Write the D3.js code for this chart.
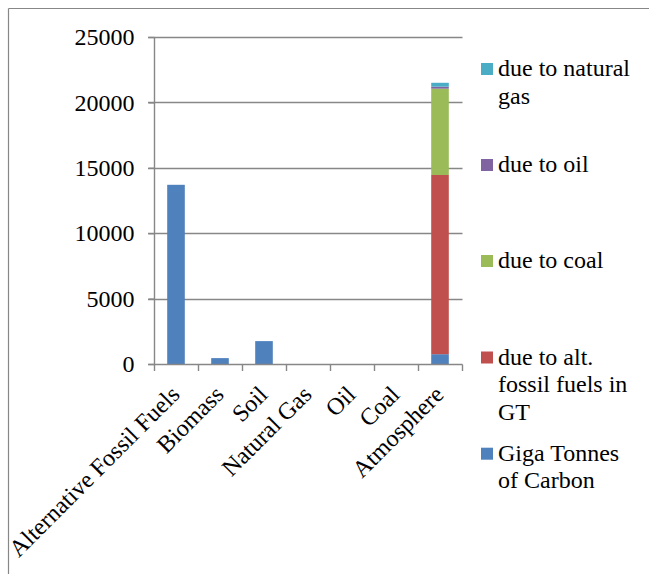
<!DOCTYPE html>
<html>
<head>
<meta charset="utf-8">
<script src="https://cdn.jsdelivr.net/npm/d3@7"></script>
<style>
  html, body { margin: 0; padding: 0; background: #fff; }
  svg { display: block; }
</style>
</head>
<body>
<script>
// Carbon stocks by category, in giga tonnes
const categories = ["Alternative Fossil Fuels", "Biomass", "Soil", "Natural Gas", "Oil", "Coal", "Atmosphere"];
const gigaTonnesCarbon = [13700, 450, 1750, 0, 0, 0, 750];
const dueToAltFossil   = [0, 0, 0, 0, 0, 0, 13700];
const dueToCoal        = [0, 0, 0, 0, 0, 0, 6600];
const dueToOil         = [0, 0, 0, 0, 0, 0, 150];
const dueToNaturalGas  = [0, 0, 0, 0, 0, 0, 300];
const yTicks = [0, 5000, 10000, 15000, 20000, 25000];

// series in stacking order (bottom to top)
const seriesKeys   = ["gt", "alt", "coal", "oil", "gas"];
const seriesValues = [gigaTonnesCarbon, dueToAltFossil, dueToCoal, dueToOil, dueToNaturalGas];
const seriesColors = ["#4F81BD", "#C0504D", "#9BBB59", "#8064A2", "#4BACC6"];
// legend lines, listed top to bottom
const legendLabels = [
  ["due to natural", "gas"],
  ["due to oil"],
  ["due to coal"],
  ["due to alt.", "fossil fuels in", "GT"],
  ["Giga Tonnes", "of Carbon"]
];
const legendColors = ["#4BACC6", "#8064A2", "#9BBB59", "#C0504D", "#4F81BD"];

const W = 649, H = 574;
const FONT = 24;
const SERIF = "'Liberation Serif', 'Times New Roman', serif";
const axisColor = "#878787";

const svg = d3.select("body").append("svg").attr("width", W).attr("height", H);

// outer frame (top and left edges visible)
svg.append("line").attr("x1", 8.5).attr("x2", W).attr("y1", 8.5).attr("y2", 8.5)
  .attr("stroke", axisColor).attr("stroke-width", 1.2);
svg.append("line").attr("x1", 8.5).attr("x2", 8.5).attr("y1", 8.5).attr("y2", H)
  .attr("stroke", axisColor).attr("stroke-width", 1.2);

const x = d3.scaleBand().domain(categories).range([154, 462]).padding(0);
const y = d3.scaleLinear().domain([0, 25000]).range([364, 37]);
const barW = x.bandwidth() * 0.4;

// gridlines
svg.append("g").selectAll("line").data(yTicks.filter(d => d > 0)).join("line")
  .attr("x1", 148).attr("x2", 462.5)
  .attr("y1", d => Math.round(y(d)) + 0.5).attr("y2", d => Math.round(y(d)) + 0.5)
  .attr("stroke", axisColor).attr("stroke-width", 1.4);

// stacked bars
const rows = categories.map((c, i) => {
  const r = { cat: c };
  seriesKeys.forEach((k, j) => { r[k] = seriesValues[j][i]; });
  return r;
});
const stacked = d3.stack().keys(seriesKeys)(rows);
svg.append("g").selectAll("g").data(stacked).join("g")
  .attr("fill", (d, i) => seriesColors[i])
  .selectAll("rect").data(d => d.filter(s => s[1] - s[0] > 0)).join("rect")
  .attr("x", d => x(d.data.cat) + (x.bandwidth() - barW) / 2)
  .attr("width", barW)
  .attr("y", d => y(d[1]))
  .attr("height", d => y(d[0]) - y(d[1]));

// y axis
const yAxis = svg.append("g").attr("transform", "translate(154.5,0)")
  .call(d3.axisLeft(y).tickValues(yTicks).tickFormat(d3.format("d")).tickSize(6).tickPadding(14));
yAxis.select(".domain").attr("stroke", axisColor).attr("stroke-width", 1.4).attr("d", `M0,${y(25000)}V${y(0)}`);
yAxis.selectAll(".tick line").attr("stroke", axisColor).attr("stroke-width", 1.4);
yAxis.selectAll(".tick text")
  .style("font-family", SERIF).style("font-size", FONT + "px").attr("fill", "#000")
  .attr("dy", "0.32em");

// x axis
const xAxis = svg.append("g").attr("transform", `translate(0,${Math.round(y(0)) + 0.5})`);
xAxis.append("line").attr("x1", 148).attr("x2", 462.5).attr("y1", 0).attr("y2", 0)
  .attr("stroke", axisColor).attr("stroke-width", 1.4);
const bounds = categories.map(c => x(c)).concat([x.range()[1]]);
xAxis.selectAll(".xt").data(bounds).join("line").attr("class", "xt")
  .attr("x1", d => Math.round(d) + 0.5).attr("x2", d => Math.round(d) + 0.5)
  .attr("y1", 0).attr("y2", 6.5)
  .attr("stroke", axisColor).attr("stroke-width", 1.4);

svg.append("g").selectAll("text").data(categories).join("text")
  .attr("transform", d => `translate(${x(d) + x.bandwidth() / 2 + 5},396) rotate(-45)`)
  .attr("text-anchor", "end")
  .style("font-family", SERIF).style("font-size", FONT + "px").attr("fill", "#000")
  .text(d => d);

// legend
const legendCenters = [69, 165, 261, 357.5, 453.7];
const lg = svg.append("g").selectAll("g").data(legendLabels).join("g")
  .attr("transform", (d, i) => `translate(0,${legendCenters[i]})`);
lg.append("rect").attr("x", 481).attr("y", -6).attr("width", 12).attr("height", 12)
  .attr("fill", (d, i) => legendColors[i]);
lg.append("text").attr("x", 498).attr("y", 7)
  .style("font-family", SERIF).style("font-size", FONT + "px").attr("fill", "#000")
  .selectAll("tspan").data(d => d).join("tspan")
  .attr("x", 498).attr("dy", (d, i) => i === 0 ? 0 : 27.5)
  .text(d => d);
</script>
</body>
</html>
